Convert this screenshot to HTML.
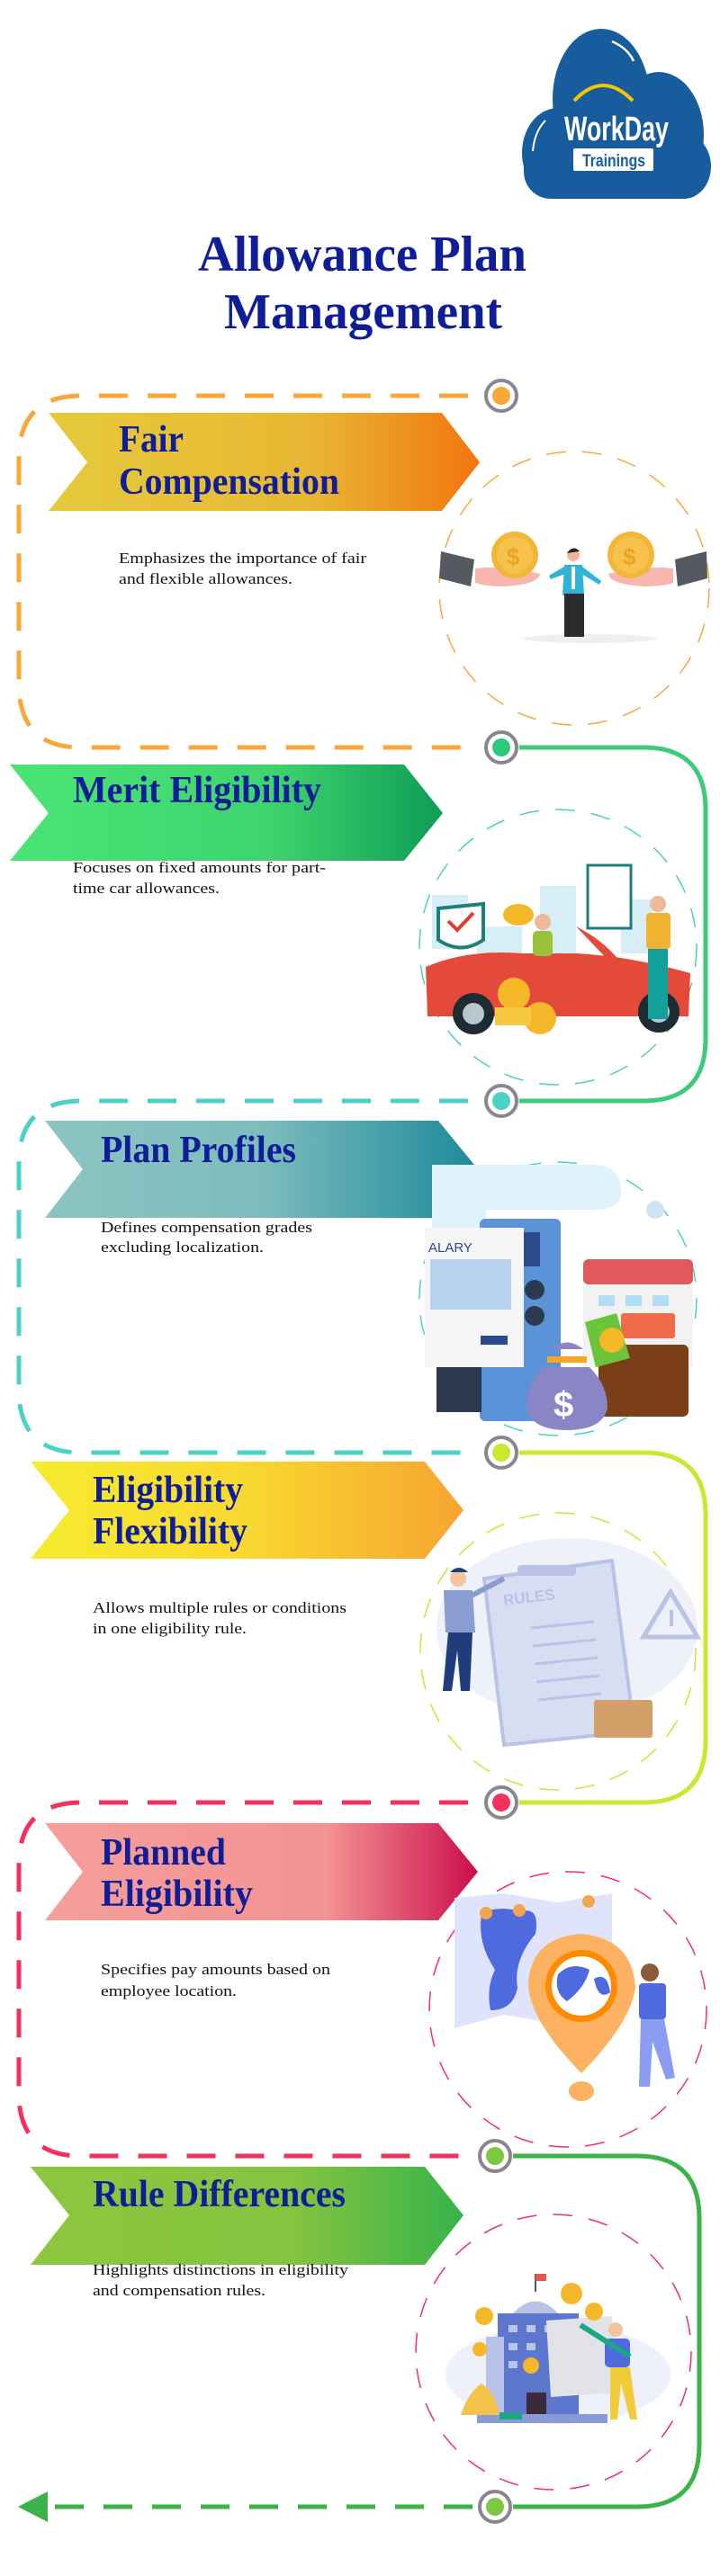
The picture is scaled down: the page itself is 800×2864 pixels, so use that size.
<!DOCTYPE html>
<html><head><meta charset="utf-8"><style>
html,body{margin:0;padding:0;background:#fff;}
svg{display:block;}
.t{font-family:"Liberation Serif",serif;font-weight:bold;fill:#0f1e96;}
.d{font-family:"Liberation Serif",serif;fill:#111;font-size:17px;}
</style></head><body>
<svg width="800" height="2864" viewBox="0 0 800 2864" xmlns="http://www.w3.org/2000/svg">
<defs>
<linearGradient id="g1" x1="0" x2="1"><stop offset="0" stop-color="#e6c93c"/><stop offset="0.6" stop-color="#e8b833"/><stop offset="1" stop-color="#f2750f"/></linearGradient>
<linearGradient id="g2" x1="0" x2="1"><stop offset="0" stop-color="#4ae576"/><stop offset="0.6" stop-color="#3fd46e"/><stop offset="1" stop-color="#0f9c55"/></linearGradient>
<linearGradient id="g3" x1="0" x2="1"><stop offset="0" stop-color="#8cc4c2"/><stop offset="0.5" stop-color="#7dbcbd"/><stop offset="1" stop-color="#1c8a9a"/></linearGradient>
<linearGradient id="g4" x1="0" x2="1"><stop offset="0" stop-color="#f6ec2e"/><stop offset="0.5" stop-color="#f8d830"/><stop offset="1" stop-color="#f6a530"/></linearGradient>
<linearGradient id="g5" x1="0" x2="1"><stop offset="0" stop-color="#f59e9a"/><stop offset="0.65" stop-color="#f39393"/><stop offset="1" stop-color="#cc0e4c"/></linearGradient>
<linearGradient id="g6" x1="0" x2="1"><stop offset="0" stop-color="#8dc63f"/><stop offset="0.6" stop-color="#85c43f"/><stop offset="1" stop-color="#37b34a"/></linearGradient>
</defs>

<!-- Logo -->
<g fill="#175d9d">
<ellipse cx="668" cy="110" rx="54" ry="78"/>
<ellipse cx="732" cy="150" rx="50" ry="70"/>
<ellipse cx="620" cy="170" rx="40" ry="50"/>
<ellipse cx="760" cy="185" rx="30" ry="36"/>
<rect x="582" y="150" width="205" height="71" rx="30"/>
</g>
<path d="M638 112 Q670 78 703 112" stroke="#f5c500" stroke-width="4" fill="none"/>
<path d="M606 134 Q594 146 592 168" stroke="#fff" stroke-width="2" fill="none"/>
<path d="M680 46 Q698 54 704 68" stroke="#fff" stroke-width="2.5" fill="none"/>
<text x="627" y="156" font-family="Liberation Sans,sans-serif" font-weight="bold" font-size="38" fill="#fff" textLength="116" lengthAdjust="spacingAndGlyphs">WorkDay</text>
<rect x="637" y="165" width="89" height="25" rx="2" fill="#fff"/>
<text x="647" y="185" font-family="Liberation Sans,sans-serif" font-weight="bold" font-size="19" fill="#175d9d" textLength="70" lengthAdjust="spacingAndGlyphs">Trainings</text>

<!-- Title -->
<text x="220" y="301" class="t" font-size="56" textLength="365" lengthAdjust="spacingAndGlyphs">Allowance Plan</text>
<text x="249" y="365" class="t" font-size="56" textLength="309" lengthAdjust="spacingAndGlyphs">Management</text>

<!-- connectors -->
<g fill="none" stroke-width="5">
<path d="M520 440 H90 Q21 440 21 510 V760 Q21 831 90 831 H520" stroke="#f7a838" stroke-dasharray="32 22"/>
<path d="M577 831 H715 Q784 831 784 900 V1155 Q784 1224 715 1224 H577" stroke="#3ccb7a"/>
<path d="M520 1224 H90 Q21 1224 21 1294 V1545 Q21 1615 90 1615 H520" stroke="#4cd2c5" stroke-dasharray="32 22"/>
<path d="M577 1615 H715 Q784 1615 784 1684 V1935 Q784 2004 715 2004 H577" stroke="#c9e82f"/>
<path d="M520 2004 H90 Q21 2004 21 2074 V2327 Q21 2397 90 2397 H520" stroke="#f2325c" stroke-dasharray="32 22"/>
<path d="M570 2397 H708 Q777 2397 777 2466 V2718 Q777 2787 708 2787 H570" stroke="#3bb34a"/>
<path d="M525 2787 H60" stroke="#3bb34a" stroke-dasharray="32 22"/>
</g>
<polygon points="20,2787 53,2770 53,2804" fill="#3bb34a"/>

<!-- nodes -->
<g stroke="#8a8590" stroke-width="4" fill="#fff">
<circle cx="557" cy="440" r="17"/><circle cx="557" cy="831" r="17"/><circle cx="557" cy="1224" r="17"/>
<circle cx="557" cy="1615" r="17"/><circle cx="557" cy="2004" r="17"/><circle cx="550" cy="2397" r="17"/><circle cx="550" cy="2787" r="17"/>
</g>
<circle cx="557" cy="440" r="10" fill="#f7a838"/><circle cx="557" cy="831" r="10" fill="#2fc77a"/>
<circle cx="557" cy="1224" r="10" fill="#4cd2c5"/><circle cx="557" cy="1615" r="10" fill="#c9e82f"/>
<circle cx="557" cy="2004" r="10" fill="#f2325c"/><circle cx="550" cy="2397" r="10" fill="#7dc742"/><circle cx="550" cy="2787" r="10" fill="#7dc742"/>

<!-- banners -->
<polygon points="54,459 491,459 533,514 491,568 54,568 97,514" fill="url(#g1)"/>
<polygon points="11,850 449,850 492,904 449,957 11,957 54,904" fill="url(#g2)"/>
<polygon points="50,1246 487,1246 531,1300 487,1354 50,1354 92,1300" fill="url(#g3)"/>
<polygon points="34,1625 472,1625 515,1679 472,1733 34,1733 77,1679" fill="url(#g4)"/>
<polygon points="50,2027 487,2027 531,2081 487,2135 50,2135 92,2081" fill="url(#g5)"/>
<polygon points="34,2409 472,2409 515,2463 472,2518 34,2518 77,2463" fill="url(#g6)"/>

<!-- headings -->
<text x="132" y="502" class="t" font-size="42" textLength="72" lengthAdjust="spacingAndGlyphs">Fair</text>
<text x="132" y="549" class="t" font-size="42" textLength="245" lengthAdjust="spacingAndGlyphs">Compensation</text>
<text x="81" y="892" class="t" font-size="42" textLength="276" lengthAdjust="spacingAndGlyphs">Merit Eligibility</text>
<text x="112" y="1292" class="t" font-size="42" textLength="217" lengthAdjust="spacingAndGlyphs">Plan Profiles</text>
<text x="103" y="1670" class="t" font-size="42" textLength="167" lengthAdjust="spacingAndGlyphs">Eligibility</text>
<text x="103" y="1716" class="t" font-size="42" textLength="172" lengthAdjust="spacingAndGlyphs">Flexibility</text>
<text x="112" y="2073" class="t" font-size="42" textLength="139" lengthAdjust="spacingAndGlyphs">Planned</text>
<text x="112" y="2119" class="t" font-size="42" textLength="169" lengthAdjust="spacingAndGlyphs">Eligibility</text>
<text x="103" y="2453" class="t" font-size="42" textLength="281" lengthAdjust="spacingAndGlyphs">Rule Differences</text>

<!-- descriptions -->
<text x="132" y="626" class="d" textLength="275" lengthAdjust="spacingAndGlyphs">Emphasizes the importance of fair</text>
<text x="132" y="649" class="d" textLength="193" lengthAdjust="spacingAndGlyphs">and flexible allowances.</text>
<text x="81" y="970" class="d" textLength="281" lengthAdjust="spacingAndGlyphs">Focuses on fixed amounts for part-</text>
<text x="81" y="993" class="d" textLength="163" lengthAdjust="spacingAndGlyphs">time car allowances.</text>
<text x="112" y="1370" class="d" textLength="235" lengthAdjust="spacingAndGlyphs">Defines compensation grades</text>
<text x="112" y="1392" class="d" textLength="181" lengthAdjust="spacingAndGlyphs">excluding localization.</text>
<text x="103" y="1793" class="d" textLength="282" lengthAdjust="spacingAndGlyphs">Allows multiple rules or conditions</text>
<text x="103" y="1816" class="d" textLength="171" lengthAdjust="spacingAndGlyphs">in one eligibility rule.</text>
<text x="112" y="2195" class="d" textLength="255" lengthAdjust="spacingAndGlyphs">Specifies pay amounts based on</text>
<text x="112" y="2219" class="d" textLength="151" lengthAdjust="spacingAndGlyphs">employee location.</text>
<text x="103" y="2529" class="d" textLength="284" lengthAdjust="spacingAndGlyphs">Highlights distinctions in eligibility</text>
<text x="103" y="2552" class="d" textLength="192" lengthAdjust="spacingAndGlyphs">and compensation rules.</text>

<!-- image circles -->
<g fill="none" stroke-width="1.5" stroke-dasharray="22 18">
<ellipse cx="638" cy="654" rx="150" ry="152" stroke="#f7a838"/>
<ellipse cx="620" cy="1053" rx="154" ry="153" stroke="#4cd2b5"/>
<ellipse cx="620" cy="1444" rx="154" ry="152" stroke="#4cd2c5"/>
<ellipse cx="620" cy="1836" rx="153" ry="154" stroke="#c9e82f"/>
<ellipse cx="631" cy="2234" rx="154" ry="153" stroke="#f2325c"/>
<ellipse cx="615" cy="2615" rx="153" ry="153" stroke="#f2325c"/>
</g>

<!-- ill 1 -->
<ellipse cx="655" cy="710" rx="75" ry="5" fill="#eef0f0"/>
<polygon points="490,613 527,622 523,652 488,643" fill="#555a60"/>
<polygon points="785,613 750,622 753,652 786,643" fill="#555a60"/>
<path d="M528 632 Q560 628 600 638 Q598 650 560 652 Q540 652 528 648Z" fill="#f7b7ae"/>
<path d="M748 632 Q716 628 676 638 Q678 650 716 652 Q736 652 748 648Z" fill="#f7b7ae"/>
<circle cx="572" cy="617" r="26" fill="#f3b637"/><circle cx="572" cy="617" r="20" fill="#f6c24e"/>
<text x="563" y="628" font-family="Liberation Sans,sans-serif" font-weight="bold" font-size="26" fill="#e9a420">$</text>
<circle cx="701" cy="617" r="26" fill="#f3b637"/><circle cx="701" cy="617" r="20" fill="#f6c24e"/>
<text x="692" y="628" font-family="Liberation Sans,sans-serif" font-weight="bold" font-size="26" fill="#e9a420">$</text>
<circle cx="637" cy="617" r="7" fill="#f2b79b"/>
<path d="M630 615 Q637 605 644 613" fill="#222"/>
<path d="M627 628 L647 628 L649 662 L625 662Z" fill="#2fb3d6"/>
<path d="M627 630 L610 640 L612 644 L628 638Z M647 630 L668 646 L666 650 L646 638Z" fill="#2fb3d6"/>
<rect x="627" y="660" width="22" height="48" fill="#2b2b2b"/>
<rect x="635" y="630" width="4" height="25" fill="#fff"/>

<!-- ill 2 car -->
<g fill="#d8eef6">
<rect x="480" y="995" width="40" height="60"/><rect x="600" y="985" width="40" height="75"/><rect x="690" y="1000" width="35" height="60"/><rect x="530" y="1030" width="50" height="30"/>
</g>
<path d="M487 1010 L537 1005 L537 1045 Q512 1062 487 1045Z" fill="#fff" stroke="#1e7f7a" stroke-width="4"/>
<path d="M498 1024 L508 1034 L526 1015" stroke="#e43a2f" stroke-width="4" fill="none"/>
<ellipse cx="576" cy="1017" rx="17" ry="12" fill="#f5b829"/>
<rect x="653" y="962" width="48" height="70" fill="#fff" stroke="#1e7f7a" stroke-width="3"/>
<path d="M473 1075 Q520 1055 580 1060 L640 1060 Q700 1063 767 1082 L765 1130 L475 1130Z" fill="#e44a3a"/>
<path d="M640 1030 Q670 1045 690 1070 L680 1072Z" fill="#e44a3a"/>
<circle cx="526" cy="1127" r="23" fill="#1d2b33"/><circle cx="526" cy="1127" r="12" fill="#b7c7cc"/>
<circle cx="732" cy="1125" r="23" fill="#1d2b33"/><circle cx="732" cy="1125" r="12" fill="#b7c7cc"/>
<circle cx="603" cy="1025" r="9" fill="#f0b896"/><rect x="592" y="1035" width="22" height="28" rx="5" fill="#9bc03a"/>
<circle cx="731" cy="1005" r="9" fill="#f0b896"/><rect x="718" y="1015" width="27" height="40" rx="4" fill="#f0b230"/>
<rect x="720" y="1055" width="22" height="78" fill="#12a09a"/>
<circle cx="571" cy="1105" r="18" fill="#f5b829"/><circle cx="600" cy="1132" r="18" fill="#f5b829"/>
<rect x="550" y="1120" width="40" height="20" fill="#f5c940"/>

<!-- ill 3 salary -->
<path d="M480 1295 H660 Q690 1295 690 1325 Q690 1345 660 1345 H540 V1480 H480Z" fill="#dff3fb"/>
<circle cx="653" cy="1321" r="12" fill="#dff3fb"/>
<rect x="533" y="1355" width="90" height="225" rx="6" fill="#5b93d9"/>
<rect x="540" y="1370" width="60" height="38" fill="#2b4a8c"/>
<rect x="472" y="1365" width="110" height="155" fill="#f6f6f8"/>
<text x="476" y="1392" font-family="Liberation Sans,sans-serif" font-size="15" fill="#2b4a8c">ALARY</text>
<rect x="478" y="1400" width="90" height="56" fill="#b9d3ee"/>
<rect x="534" y="1485" width="30" height="10" fill="#2b4a8c"/>
<rect x="485" y="1520" width="50" height="50" fill="#2b3a4e"/>
<circle cx="594" cy="1434" r="11" fill="#2b3a4e"/><circle cx="594" cy="1463" r="11" fill="#2b3a4e"/>
<rect x="648" y="1400" width="122" height="120" fill="#f2f2f2"/>
<rect x="648" y="1400" width="122" height="28" rx="6" fill="#e05a5c"/>
<g fill="#b5dcf5"><rect x="665" y="1440" width="18" height="12"/><rect x="695" y="1440" width="18" height="12"/><rect x="725" y="1440" width="18" height="12"/></g>
<circle cx="728" cy="1345" r="10" fill="#cfe3f5"/>
<rect x="690" y="1460" width="60" height="28" rx="3" fill="#ef6b4a"/>
<rect x="665" y="1495" width="100" height="80" rx="6" fill="#7b3f17"/>
<path d="M650 1470 L685 1460 L700 1510 L662 1520Z" fill="#6bc43a"/>
<circle cx="680" cy="1490" r="14" fill="#f5b829"/>
<path d="M603 1520 Q585 1540 585 1565 Q590 1590 630 1590 Q670 1590 675 1565 Q675 1540 655 1520Z" fill="#8b85c6"/>
<rect x="608" y="1508" width="44" height="7" fill="#f5a623"/>
<path d="M612 1500 Q630 1485 648 1500Z" fill="#8b85c6"/>
<text x="615" y="1575" font-family="Liberation Sans,sans-serif" font-weight="bold" font-size="40" fill="#fff">$</text>

<!-- ill 4 rules -->
<ellipse cx="630" cy="1810" rx="145" ry="100" fill="#eef1fa"/>
<path d="M538 1755 L680 1735 L705 1925 L560 1940Z" fill="#d8def2" stroke="#b8c3e6" stroke-width="4"/>
<rect x="575" y="1740" width="65" height="12" rx="4" fill="#b8c3e6"/>
<text x="560" y="1785" font-family="Liberation Sans,sans-serif" font-weight="bold" font-size="17" fill="#b8c3e6" transform="rotate(-7 560 1785)">RULES</text>
<g stroke="#b8c3e6" stroke-width="3"><line x1="590" y1="1810" x2="660" y2="1803"/><line x1="592" y1="1830" x2="662" y2="1823"/><line x1="594" y1="1850" x2="664" y2="1843"/><line x1="596" y1="1870" x2="666" y2="1863"/><line x1="598" y1="1890" x2="668" y2="1883"/></g>
<polygon points="745,1770 775,1820 715,1820" fill="none" stroke="#b8c3e6" stroke-width="5"/>
<rect x="744" y="1790" width="4" height="18" fill="#b8c3e6"/>
<rect x="660" y="1890" width="65" height="42" rx="3" fill="#d4a06a"/>
<circle cx="509" cy="1755" r="9" fill="#f2c5a0"/>
<path d="M500 1748 Q510 1738 520 1748" fill="#1f3d7a"/>
<path d="M493 1768 L525 1768 L528 1815 L495 1815Z" fill="#8a9dd0"/>
<path d="M498 1815 L525 1815 L522 1880 L512 1880 L508 1835 L502 1880 L492 1880Z" fill="#1f3d7a"/>
<line x1="522" y1="1775" x2="560" y2="1755" stroke="#8a9dd0" stroke-width="6"/>

<!-- ill 5 map -->
<polygon points="505,2110 560,2105 620,2115 680,2105 680,2245 620,2250 560,2240 505,2255" fill="#dfe4fb"/>
<path d="M535 2128 Q550 2118 580 2125 Q600 2120 595 2150 Q570 2180 575 2210 Q570 2235 545 2235 Q540 2210 550 2190 Q530 2160 535 2128Z" fill="#4f6adf"/>
<circle cx="540" cy="2127" r="7" fill="#f5a44e"/><circle cx="577" cy="2124" r="7" fill="#f5a44e"/><circle cx="654" cy="2114" r="7" fill="#f5a44e"/>
<path d="M587 2210 Q587 2155 645 2150 Q703 2155 706 2210 Q700 2250 646 2305 Q592 2250 587 2210Z" fill="#fcb260"/>
<circle cx="646" cy="2208" r="40" fill="#ff8a00"/><circle cx="646" cy="2208" r="33" fill="#fff"/>
<path d="M620 2195 Q635 2180 655 2190 Q650 2210 630 2225 Q615 2215 620 2195Z M660 2200 Q675 2192 678 2215 Q665 2225 660 2200Z" fill="#4f6adf"/>
<ellipse cx="646" cy="2325" rx="14" ry="11" fill="#fcb260"/>
<circle cx="722" cy="2193" r="10" fill="#8a5a3a"/>
<rect x="710" y="2205" width="30" height="40" rx="4" fill="#4f6adf"/>
<path d="M712 2245 L738 2245 L750 2310 L740 2312 L725 2270 L722 2320 L710 2320Z" fill="#8a9df0"/>

<!-- ill 6 building -->
<ellipse cx="620" cy="2640" rx="125" ry="55" fill="#eef0fa"/>
<path d="M570 2572 Q595 2545 620 2572Z" fill="#b9c3e8"/>
<line x1="595" y1="2548" x2="595" y2="2528" stroke="#555" stroke-width="2"/>
<rect x="595" y="2528" width="12" height="8" fill="#e8584a"/>
<rect x="553" y="2572" width="90" height="112" fill="#5d77cf"/>
<rect x="540" y="2598" width="20" height="86" fill="#b9c3e8"/>
<g fill="#b9c3e8"><rect x="565" y="2585" width="10" height="8"/><rect x="585" y="2585" width="10" height="8"/><rect x="605" y="2585" width="10" height="8"/><rect x="565" y="2605" width="10" height="8"/><rect x="585" y="2605" width="10" height="8"/><rect x="565" y="2625" width="10" height="8"/><rect x="585" y="2625" width="10" height="8"/></g>
<rect x="585" y="2660" width="22" height="24" fill="#3a2a3a"/>
<rect x="530" y="2684" width="145" height="10" fill="#8a9ad8"/>
<path d="M607 2580 L680 2575 L685 2660 L612 2665Z" fill="#e2e3e8"/>
<path d="M512 2685 Q520 2660 535 2650 Q550 2660 555 2685Z" fill="#f5c34a"/>
<rect x="555" y="2682" width="25" height="8" fill="#1aa884"/>
<circle cx="538" cy="2575" r="10" fill="#f5b829"/><circle cx="533" cy="2612" r="8" fill="#f5b829"/>
<circle cx="635" cy="2550" r="12" fill="#f5b829"/><circle cx="660" cy="2570" r="10" fill="#f5b829"/><circle cx="590" cy="2630" r="9" fill="#f5b829"/>
<circle cx="684" cy="2590" r="8" fill="#f2c5a0"/><rect x="672" y="2600" width="28" height="32" rx="5" fill="#4f6adf"/>
<path d="M678 2632 L700 2632 L708 2690 L700 2690 L690 2650 L686 2690 L678 2690Z" fill="#f0cc3a"/>
<line x1="645" y1="2585" x2="700" y2="2620" stroke="#1aa884" stroke-width="6"/>
</svg>
</body></html>
